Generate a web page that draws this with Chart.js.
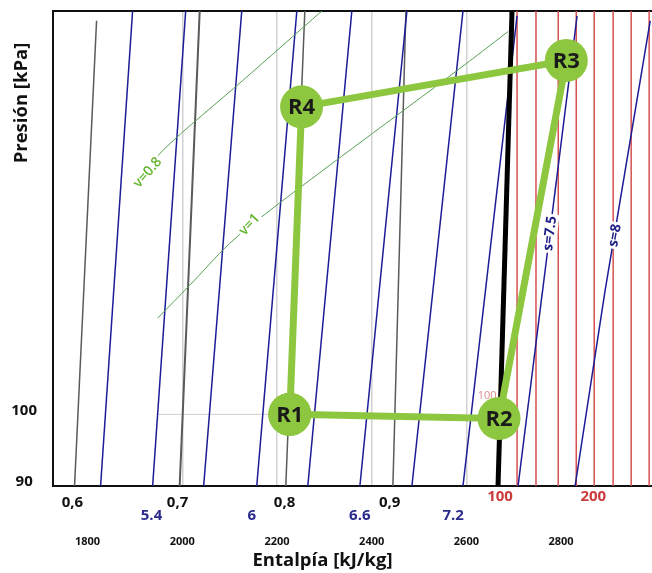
<!DOCTYPE html>
<html>
<head>
<meta charset="utf-8">
<script src="https://cdn.jsdelivr.net/npm/chart.js@4.4.0/dist/chart.umd.min.js"></script>
<style>
    html, body { margin: 0; padding: 0; background: #fff; overflow: hidden; }
    canvas { display: block; }
</style>
</head>
<body>
<canvas id="ph-chart" width="652" height="573"></canvas>
<script>
// ejes
const enthalpyTicks = [1800, 2000, 2200, 2400, 2600, 2800];
const gridEnthalpy = [2000, 2200, 2400, 2600];
const pressureTicks = [90, 100];

// titulos de calidad (x), entropia (s) y temperatura (T) bajo el eje
const qualityLabels = ['0,6', '0,7', '0,8', '0,9'];
const qualityLabelH = [1768, 1990, 2216, 2438];
const entropyLabels = ['5.4', '6', '6.6', '7.2'];
const entropyLabelH = [1935, 2147, 2375, 2572];
const tempLabels = ['100', '200'];
const tempLabelH = [2671, 2868];

// lineas de calidad [h, P]
const qualityLines = [
    [[1772.5, 90], [1819.0, 178.4]],
    [[1994.5, 90], [2036.8, 181]],
    [[2218.6, 90], [2258.8, 181]],
    [[2444.8, 90], [2472.3, 181]]
];

// isoentropicas [h, P]
const entropyLines = [
    [[1827.5, 90], [1895.1, 181]],
    [[1937.4, 90], [2007.2, 181]],
    [[2045.2, 90], [2125.6, 181]],
    [[2157.3, 90], [2241.9, 181]],
    [[2265.1, 90], [2358.1, 181]],
    [[2375.1, 90], [2474.4, 181]],
    [[2485.0, 90], [2592.8, 181]],
    [[2592.8, 90], [2707.0, 179.7]],
    [[2709.1, 90], [2833.8, 179.7]],
    [[2829.6, 90], [2893.0, 120.0], [2988.2, 178.4]]
];
const entropyTags = ['s=7.5', 's=8'];
const entropyTagH = [2777, 2914];
const entropyTagP = [130.5, 130.1];

// isotermas en vapor sobrecalentado (120..260 C)
const isothermT = [120, 140, 160, 180, 200, 220, 240, 260];
const isothermH = [2707, 2747, 2794, 2832, 2870, 2910, 2948, 2986];

// isocoras [h, P]
const volumeLines = [
    [[1900.0, 139.9], [1958.6, 147.4], [2127.7, 163.4], [2294.7, 181]],
    [[1948.0, 115.2], [2015.6, 120.9], [2100.2, 128.6], [2178.4, 134.5], [2290.5, 142.7], [2381.4, 149.6], [2580.1, 165.8], [2688.0, 175.6]]
];
const volumeTags = ['v=0.8', 'v=1'];
const volumeTagH = [1927, 2142];
const volumeTagP = [142.7, 132.2];

// curva de vapor saturado
const saturationLine = [[2666.8, 90], [2696.4, 181]];

// ciclo
const cycleNames = ['R1', 'R2', 'R3', 'R4'];
const cycleH = [2227, 2669, 2811, 2252];
const cycleP = [100, 99.4, 168.3, 157.2];
const guide100 = [[1948, 100], [2227, 100]];

const FONT = "'Open Sans', sans-serif";

function lineSet(points, color, width, tension) {
    return {
        data: points.map(([h, p]) => ({ x: h, y: p })),
        borderColor: color,
        borderWidth: width,
        pointRadius: 0,
        showLine: true,
        fill: false,
        tension: tension || 0
    };
}

function drawTag(ctx, text, px, py, angle, font, color) {
    ctx.save();
    ctx.translate(px, py);
    ctx.rotate(angle * Math.PI / 180);
    ctx.font = font;
    const w = ctx.measureText(text).width;
    ctx.fillStyle = '#ffffff';
    ctx.fillRect(-w / 2 - 2, -7, w + 4, 14);
    ctx.fillStyle = color;
    ctx.textAlign = 'center';
    ctx.textBaseline = 'middle';
    ctx.fillText(text, 0, 0);
    ctx.restore();
}

// sin relleno extra alrededor de los ejes
function noPadding(scale) {
    scale.paddingLeft = 0;
    scale.paddingRight = 0;
    scale.paddingTop = 0;
    scale.paddingBottom = 0;
}

const phLabels = {
    id: 'phLabels',
    beforeDatasetsDraw(chart) {
        const { ctx, scales: { x, y } } = chart;
        ctx.save();
        ctx.font = '11px ' + FONT;
        ctx.fillStyle = '#de8c8c';
        ctx.textAlign = 'center';
        ctx.textBaseline = 'middle';
        ctx.fillText('100', x.getPixelForValue(2644), y.getPixelForValue(102.8));
        ctx.restore();
    },
    afterDatasetsDraw(chart) {
        const { ctx, scales: { x, y } } = chart;
        const sAngles = [-83, -80];
        entropyTags.forEach((t, i) => {
            drawTag(ctx, t, x.getPixelForValue(entropyTagH[i]), y.getPixelForValue(entropyTagP[i]),
                sAngles[i], 'bold 14px ' + FONT, '#22228a');
        });
        const vAngles = [-49, -47];
        volumeTags.forEach((t, i) => {
            drawTag(ctx, t, x.getPixelForValue(volumeTagH[i]), y.getPixelForValue(volumeTagP[i]),
                vAngles[i], '600 14px ' + FONT, '#62b52c');
        });

        // etiquetas del ciclo
        const meta = chart.getDatasetMeta(0);
        ctx.save();
        ctx.font = 'bold 22px ' + FONT;
        ctx.fillStyle = '#1a1a1a';
        ctx.textAlign = 'center';
        ctx.textBaseline = 'middle';
        cycleNames.forEach((name, i) => {
            const pt = meta.data[i];
            ctx.fillText(name, pt.x, pt.y + 1);
        });
        ctx.restore();
    },
    afterDraw(chart) {
        const { ctx, chartArea, scales: { x } } = chart;
        const b = chartArea.bottom;
        ctx.save();
        ctx.textAlign = 'center';
        ctx.textBaseline = 'middle';

        ctx.font = 'bold 15px ' + FONT;
        ctx.fillStyle = '#cc3b3b';
        tempLabels.forEach((t, i) => ctx.fillText(t, x.getPixelForValue(tempLabelH[i]), b + 11));
        ctx.fillStyle = '#111111';
        qualityLabels.forEach((t, i) => ctx.fillText(t, x.getPixelForValue(qualityLabelH[i]), b + 17));
        ctx.fillStyle = '#2b2b8c';
        entropyLabels.forEach((t, i) => ctx.fillText(t, x.getPixelForValue(entropyLabelH[i]), b + 30));

        // titulos
        ctx.font = 'bold 18.5px ' + FONT;
        ctx.fillStyle = '#111111';
        ctx.fillText('Entalpía [kJ/kg]', (chartArea.left + chartArea.right) / 2 - 30, b + 75);
        ctx.translate(22, chartArea.top + 92);
        ctx.rotate(-Math.PI / 2);
        ctx.fillText('Presión [kPa]', 0, 0);
        ctx.restore();
    }
};

const datasets = [];

// ciclo (primero = encima)
datasets.push({
    data: cycleNames.map((n, i) => ({ x: cycleH[i], y: cycleP[i] })).concat([{ x: cycleH[0], y: cycleP[0] }]),
    borderColor: '#8dc63f',
    borderWidth: 7,
    backgroundColor: '#8dc63f',
    pointBackgroundColor: '#8dc63f',
    pointBorderWidth: 0,
    pointRadius: 21.5,
    showLine: true,
    fill: false
});
datasets.push(lineSet(saturationLine, '#000000', 5));
volumeLines.forEach(l => datasets.push(lineSet(l, '#55a055', 1, 0.3)));
entropyLines.forEach(l => datasets.push(lineSet(l, '#1c1c96', 1.5)));
qualityLines.forEach((l, i) => datasets.push(lineSet(l, '#5a5a5a', i === 1 ? 2 : 1.5)));
isothermH.forEach(h => datasets.push(lineSet([[h, 90], [h, 181]], '#d65050', 1.5)));
datasets.push(lineSet(guide100, '#cfcfcf', 1));

new Chart(document.getElementById('ph-chart'), {
    type: 'scatter',
    data: { datasets },
    options: {
        responsive: false,
        animation: false,
        devicePixelRatio: 1,
        layout: { autoPadding: false, padding: { top: 11, left: 0, right: 0, bottom: 0 } },
        plugins: {
            legend: { display: false },
            tooltip: { enabled: false }
        },
        scales: {
            x: {
                type: 'linear',
                position: 'bottom',
                min: 1727,
                max: 2992,
                afterBuildTicks: (scale) => { scale.ticks = enthalpyTicks.map(v => ({ value: v })); },
                afterFit: (scale) => { scale.height = 87; noPadding(scale); },
                grid: {
                    drawTicks: false,
                    color: (c) => (c.tick && gridEnthalpy.includes(c.tick.value)) ? '#d2d2d2' : 'rgba(0,0,0,0)',
                    lineWidth: 1.5
                },
                border: { color: '#111111', width: 2 },
                ticks: {
                    padding: 49,
                    color: '#111111',
                    font: { family: FONT, size: 11, weight: 'bold' },
                    maxRotation: 0,
                    callback: (v) => String(v)
                }
            },
            xTop: {
                type: 'linear',
                position: 'top',
                min: 1727,
                max: 2992,
                afterFit: (scale) => { scale.height = 0; noPadding(scale); },
                grid: { display: false, drawTicks: false },
                border: { color: '#111111', width: 2 },
                ticks: { display: false }
            },
            y: {
                type: 'logarithmic',
                position: 'left',
                min: 90,
                max: 181,
                afterBuildTicks: (scale) => { scale.ticks = pressureTicks.map(v => ({ value: v })); },
                afterFit: (scale) => { scale.width = 53; noPadding(scale); },
                grid: { display: false, drawTicks: false },
                border: { color: '#111111', width: 2 },
                ticks: {
                    padding: 16,
                    crossAlign: 'center',
                    labelOffset: -4,
                    color: '#111111',
                    font: { family: FONT, size: 15, weight: 'bold' },
                    callback: (v) => String(v)
                }
            }
        }
    },
    plugins: [phLabels]
});
</script>
</body>
</html>
